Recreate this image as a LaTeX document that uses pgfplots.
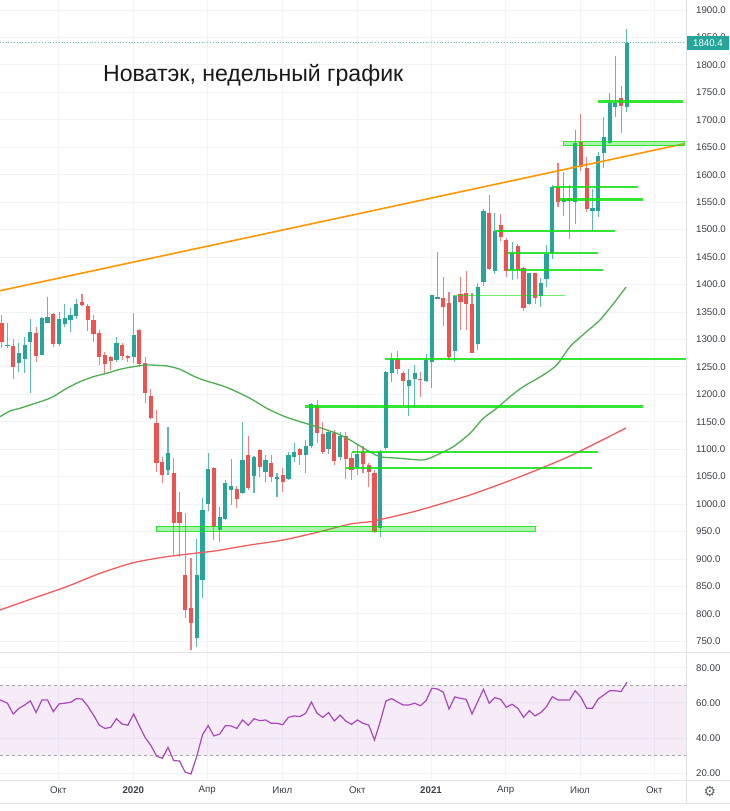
\documentclass[border=0pt]{standalone}
\usepackage{fontspec}
\setmainfont{Liberation Sans}
\newfontfamily\dejavu{DejaVu Sans}
\usepackage{pgfplots}
\usepackage{pgfplotstable}
\pgfplotsset{compat=1.18}
\definecolor{up}{HTML}{26A69A}
\definecolor{dn}{HTML}{EF5350}
\definecolor{gridc}{HTML}{F0F3FA}
\definecolor{sepc}{HTML}{E0E3EB}
\definecolor{lbl}{HTML}{3A3E48}
\definecolor{lvl}{HTML}{10E010}
\definecolor{orng}{HTML}{FF9800}
\definecolor{maone}{HTML}{4CAF50}
\definecolor{matwo}{HTML}{F25B5B}
\definecolor{rsic}{HTML}{AB47BC}
\definecolor{rsib}{HTML}{9C27B0}

\pgfplotstableread{
i o h l c
1 1329.3 1344.4 1283.7 1295.9
2 1288.6 1329.3 1283.7 1289.8
3 1288.0 1300.1 1227.2 1250.3
4 1257.6 1294.0 1241.2 1274.6
5 1263.7 1303.8 1238.2 1289.8
6 1295.9 1336.6 1201.8 1314.1
7 1312.3 1323.2 1259.4 1269.8
8 1271.6 1340.2 1271.6 1338.4
9 1330.5 1376.6 1330.5 1340.2
10 1346.3 1347.5 1286.8 1291.6
11 1291.6 1349.3 1288.0 1336.6
12 1327.4 1364.5 1323.2 1338.4
13 1335.3 1356.6 1314.1 1344.4
14 1342.6 1373.0 1336.6 1364.5
15 1368.7 1382.7 1360.8 1362.7
16 1360.8 1364.5 1315.9 1335.3
17 1335.3 1344.4 1295.9 1309.8
18 1311.0 1317.1 1253.4 1268.5
19 1271.6 1277.7 1237.0 1255.2
20 1268.5 1269.8 1244.3 1261.3
21 1262.5 1305.0 1259.4 1294.0
22 1289.8 1294.0 1262.5 1269.8
23 1269.8 1271.6 1259.4 1265.5
24 1268.5 1347.5 1256.4 1308.0
25 1317.1 1318.3 1249.1 1255.2
26 1256.4 1268.5 1184.8 1201.8
27 1196.9 1209.0 1154.4 1156.2
28 1147.1 1171.4 1059.1 1074.2
29 1077.3 1086.4 1039.0 1053.0
30 1062.1 1141.0 1053.0 1093.7
31 1057.2 1083.4 907.3 966.2
32 985.0 1022.6 904.2 966.2
33 870.8 983.2 791.9 807.1
34 810.1 901.2 735.0 782.8
35 755.5 936.0 740.0 870.8
36 861.3 1011.3 829.5 988.7
37 1000.1 1093.6 988.0 1063.3
38 1065.1 1066.9 934.5 958.8
39 952.8 995.3 931.5 975.8
40 972.2 1043.8 971.0 1037.8
41 1025.6 1081.5 998.3 1032.9
42 1026.8 1032.9 992.2 1008.6
43 1019.6 1148.9 1018.3 1080.3
44 1089.4 1124.0 1025.6 1028.7
45 1051.1 1087.6 1019.6 1086.3
46 1098.5 1099.7 1049.9 1068.1
47 1059.0 1089.4 1040.8 1080.3
48 1075.4 1089.4 1040.8 1049.9
49 1046.3 1056.0 1012.3 1049.9
50 1052.9 1065.1 1022.6 1040.8
51 1045.1 1095.5 1043.8 1089.4
52 1085.1 1111.8 1077.2 1095.5
53 1100.3 1101.5 1071.2 1089.4
54 1089.4 1116.7 1057.2 1105.8
55 1105.8 1184.7 1101.5 1182.3
56 1180.5 1189.6 1110.6 1128.8
57 1127.6 1150.1 1091.2 1095.5
58 1099.7 1134.9 1091.2 1131.9
59 1130.1 1134.9 1071.2 1079.1
60 1085.1 1131.9 1080.3 1124.0
61 1124.0 1131.9 1045.1 1081.5
62 1083.3 1092.4 1043.8 1062.1
63 1066.9 1107.6 1052.9 1091.2
64 1095.5 1105.8 1056.0 1073.0
65 1071.2 1075.4 1030.5 1059.0
66 1056.0 1062.1 947.9 949.7
67 955.8 1098.5 939.4 1095.5
68 1101.5 1243.0 1098.5 1241.2
69 1239.3 1275.8 1223.0 1263.6
70 1263.6 1279.4 1236.9 1245.4
71 1239.3 1243.0 1180.4 1224.8
72 1215.1 1245.4 1160.4 1226.0
73 1227.2 1253.3 1174.4 1238.1
74 1228.4 1241.2 1195.6 1226.0
75 1224.8 1273.3 1223.0 1262.4
76 1259.4 1381.5 1210.8 1380.8
77 1374.7 1459.7 1372.9 1376.6
78 1374.7 1413.0 1324.3 1359.6
79 1365.6 1386.9 1262.4 1268.5
80 1279.4 1380.8 1259.4 1379.0
81 1382.6 1414.2 1317.1 1368.7
82 1385.1 1425.1 1317.1 1364.4
83 1364.4 1385.1 1274.5 1275.8
84 1291.6 1402.1 1280.6 1396.0
85 1405.1 1536.9 1397.2 1533.8
86 1530.8 1563.0 1426.4 1427.6
87 1425.1 1529.6 1419.1 1498.0
88 1508.3 1528.4 1479.8 1485.9
89 1481.0 1484.0 1414.2 1425.1
90 1426.4 1477.9 1408.1 1456.7
91 1470.1 1473.7 1409.4 1426.4
92 1429.4 1432.4 1352.3 1356.5
93 1364.4 1421.5 1362.6 1420.3
94 1420.3 1421.5 1364.4 1374.7
95 1379.0 1411.2 1358.3 1403.3
96 1409.4 1471.9 1394.8 1455.5
97 1457.9 1581.2 1445.8 1576.9
98 1577.0 1621.9 1541.8 1550.9
99 1550.9 1605.5 1524.8 1555.1
100 1557.0 1581.2 1482.3 1552.7
101 1550.9 1681.4 1510.2 1658.3
102 1660.2 1710.6 1607.3 1613.4
103 1611.6 1632.8 1532.7 1536.9
104 1534.5 1573.3 1498.0 1538.7
105 1534.5 1642.0 1523.5 1634.1
106 1640.1 1705.7 1611.6 1668.1
107 1658.3 1749.4 1655.9 1730.0
108 1722.7 1816.2 1704.5 1731.2
109 1739.1 1761.6 1675.3 1725.1
110 1723.9 1864.8 1714.8 1840.4
}\candles

\pgfplotstableread{
i p
0.70 1159.2
2.45 1169.6
4.19 1174.5
5.93 1180.5
8.25 1188.3
9.97 1195.6
12.33 1210.9
14.65 1222.9
16.97 1232.0
19.31 1238.3
21.63 1245.5
23.95 1250.3
26.28 1253.4
29.77 1251.6
32.09 1245.5
34.41 1233.3
36.15 1226.0
40.23 1212.7
44.30 1192.7
47.21 1174.5
50.10 1160.5
53.01 1150.1
55.93 1141.0
59.41 1128.9
61.73 1116.8
64.65 1098.5
66.96 1086.3
70.45 1083.4
74.51 1080.3
76.85 1089.4
79.75 1104.6
82.66 1128.9
84.98 1156.3
87.31 1174.5
89.63 1195.6
91.95 1213.9
95.44 1235.2
97.78 1253.4
100.09 1286.7
102.71 1311.7
105.32 1335.3
107.76 1366.3
109.86 1395.4
}\maslow

\pgfplotstableread{
i p
0.70 807.1
6.51 828.4
12.33 849.6
18.14 873.9
23.95 893.3
29.77 904.2
35.58 911.5
38.49 915.1
44.30 925.5
50.10 934.6
55.93 948.3
61.73 963.7
65.22 967.9
70.45 980.1
73.94 989.3
82.66 1016.6
91.38 1049.9
100.09 1087.6
109.86 1138.6
}\malong

\pgfplotstableread{
i r
0.70 61.7
1 61.3
2 59.8
3 53.7
4 56.9
5 58.8
6 61.1
7 54.5
8 61.6
9 61.6
10 55.0
11 59.4
12 59.8
13 60.3
14 62.4
15 62.2
16 58.2
17 53.1
18 47.4
19 45.5
20 46.1
21 51.0
22 48.0
23 47.3
24 53.7
25 46.9
26 40.4
27 35.9
28 29.8
29 28.5
30 34.7
31 27.2
32 27.0
33 20.6
34 19.6
35 29.4
36 41.8
37 47.1
38 41.2
39 42.3
40 47.1
41 46.9
42 45.5
43 50.3
44 47.3
45 51.0
46 49.9
47 50.3
48 48.4
49 48.4
50 47.6
51 51.8
52 52.6
53 52.2
54 54.1
55 60.5
56 54.1
57 51.8
58 54.5
59 49.7
60 53.1
61 49.7
62 47.8
63 50.3
64 48.4
65 47.4
66 38.9
67 49.3
68 61.1
69 62.4
70 60.5
71 58.8
72 58.8
73 59.8
74 58.4
75 61.3
76 68.3
77 67.9
78 66.0
79 56.5
80 63.4
81 62.6
82 62.0
83 53.7
84 60.7
85 67.7
86 59.8
87 63.0
88 62.0
89 57.5
90 59.2
91 56.9
92 51.8
93 55.6
94 52.6
95 54.5
96 57.9
97 63.5
98 61.6
99 61.6
100 61.6
101 66.9
102 63.2
103 56.9
104 56.9
105 62.2
106 64.5
107 66.9
108 66.9
109 66.4
110 71.7
}\rsi

\pgfplotsset{
  lvlline/.style={lvl, opacity=0.85, line width=2.3pt, forget plot},
  tcklbl/.style={font=\fontsize{9.7}{11}\selectfont, text=lbl},
  candle/.style={draw=none, fill=none, mark=none, forget plot,
    /pgfplots/error bars/y dir=both, /pgfplots/error bars/y explicit,
    /pgfplots/error bars/error mark=none},
}

\begin{document}
\begin{tikzpicture}
\path[use as bounding box] (0pt,0pt) rectangle (730pt,811pt);

\begin{axis}[
  at={(0pt,159pt)}, anchor=south west,
  scale only axis, width=686pt, height=652pt,
  xmin=0.7036, xmax=120.32, ymin=730.6, ymax=1918.2,
  axis line style={draw=none},
  xtick={10.87,23.95,36.85,49.93,63.01,75.86,88.88,101.84,114.79},
  xticklabels={},
  ytick={750,800,...,1900},
  yticklabel pos=right,
  major tick length=0pt,
  grid=major, major grid style={gridc, line width=0.8pt},
  /pgf/number format/assume math mode=true,
  /pgf/number format/fixed, /pgf/number format/fixed zerofill,
  /pgf/number format/precision=1, /pgf/number format/1000 sep={},
  yticklabel style={tcklbl, anchor=west, inner sep=0pt, xshift=10pt},
]
% wicks
\addplot[candle, x filter/.expression={\thisrow{c}>=\thisrow{o} ? x : nan},
  /pgfplots/error bars/error bar style={draw=up!75, line width=1.1pt}]
  table[x=i, y expr={(\thisrow{h}+\thisrow{l})/2}, y error expr={(\thisrow{h}-\thisrow{l})/2}] {\candles};
\addplot[candle, x filter/.expression={\thisrow{c}<\thisrow{o} ? x : nan},
  /pgfplots/error bars/error bar style={draw=dn!75, line width=1.1pt}]
  table[x=i, y expr={(\thisrow{h}+\thisrow{l})/2}, y error expr={(\thisrow{h}-\thisrow{l})/2}] {\candles};
% bodies
\addplot[candle, x filter/.expression={\thisrow{c}>=\thisrow{o} ? x : nan},
  /pgfplots/error bars/error bar style={draw=up, line width=4.2pt}]
  table[x=i, y expr={(\thisrow{o}+\thisrow{c})/2}, y error expr={max(abs(\thisrow{c}-\thisrow{o})/2,0.9)}] {\candles};
\addplot[candle, x filter/.expression={\thisrow{c}<\thisrow{o} ? x : nan},
  /pgfplots/error bars/error bar style={draw=dn, line width=4.2pt}]
  table[x=i, y expr={(\thisrow{o}+\thisrow{c})/2}, y error expr={max(abs(\thisrow{c}-\thisrow{o})/2,0.9)}] {\candles};

% moving averages
\addplot[matwo, line width=1.3pt, smooth, tension=0.4, forget plot] table[x=i, y=p] {\malong};
\addplot[maone, line width=1.3pt, smooth, tension=0.4, forget plot] table[x=i, y=p] {\maslow};
% trend line
\addplot[orng, line width=1.6pt, forget plot] coordinates {(0.7036,1388.6) (119.97,1656.3)};

% levels
\addplot[draw=lvl, fill=lvl, fill opacity=0.35, draw opacity=0.8, line width=0.8pt, forget plot]
  coordinates {(27.90,950.5) (93.99,950.5) (93.99,959.6) (27.90,959.6)} -- cycle;
\addplot[draw=lvl, fill=lvl, fill opacity=0.35, draw opacity=0.8, line width=0.8pt, forget plot]
  coordinates {(98.87,1652.5) (119.97,1652.5) (119.97,1660.3) (98.87,1660.3)} -- cycle;
\addplot[lvlline] coordinates {(62.08,1094.3) (104.98,1094.3)};
\addplot[lvlline] coordinates {(61.04,1065.9) (103.93,1065.9)};
\addplot[lvlline] coordinates {(53.89,1178.0) (112.82,1178.0)};
\addplot[lvlline] coordinates {(67.84,1264.3) (120.32,1264.3)};
\addplot[lvl, opacity=0.6, line width=1.2pt, forget plot] coordinates {(79.69,1379.5) (99.22,1379.5)};
\addplot[lvlline] coordinates {(89.28,1426.8) (105.85,1426.8)};
\addplot[lvlline] coordinates {(89.28,1457.2) (104.98,1457.2)};
\addplot[lvlline] coordinates {(87.02,1497.8) (107.94,1497.8)};
\addplot[lvlline] coordinates {(98.35,1554.8) (112.82,1554.8)};
\addplot[lvlline] coordinates {(97.13,1577.8) (111.95,1577.8)};
\addplot[lvlline] coordinates {(104.98,1733.1) (119.80,1733.1)};
% last price
\addplot[up!70, dotted, line width=0.8pt, forget plot] coordinates {(0.7036,1840.4) (120.32,1840.4)};
\end{axis}

\begin{axis}[
  at={(0pt,31pt)}, anchor=south west,
  scale only axis, width=686pt, height=128pt,
  xmin=0.7036, xmax=120.32, ymin=16.2, ymax=88.9,
  axis line style={draw=none},
  xtick={10.87,23.95,36.85,49.93,63.01,75.86,88.88,101.84,114.79},
  xticklabels={Окт,\textbf{2020},Апр,Июл,Окт,\textbf{2021},Апр,Июл,Окт},
  ytick={20,40,60,80},
  yticklabel pos=right,
  major tick length=0pt,
  grid=major, major grid style={gridc, line width=0.8pt},
  /pgf/number format/assume math mode=true,
  /pgf/number format/fixed, /pgf/number format/fixed zerofill,
  /pgf/number format/precision=2,
  yticklabel style={tcklbl, anchor=west, inner sep=0pt, xshift=10pt},
  xticklabel style={tcklbl, anchor=center, inner sep=0pt, yshift=-10pt},
]
\addplot[draw=none, fill=rsib, fill opacity=0.09, forget plot]
  coordinates {(0.7036,30) (120.32,30) (120.32,70) (0.7036,70)} -- cycle;
\addplot[gray!70, dashed, line width=0.7pt, forget plot] coordinates {(0.7036,70) (120.32,70)};
\addplot[gray!70, dashed, line width=0.7pt, forget plot] coordinates {(0.7036,30) (120.32,30)};
\addplot[rsic, line width=1.2pt, forget plot] table[x=i, y=r] {\rsi};
\end{axis}

% frame lines
\draw[sepc, line width=0.8pt] (0pt,159pt) -- (730pt,159pt);
\draw[sepc, line width=0.8pt] (0pt,31pt) -- (730pt,31pt);
\draw[sepc, line width=0.8pt] (0pt,8pt) -- (730pt,8pt);
\draw[sepc, line width=0.8pt] (686.5pt,8pt) -- (686.5pt,811pt);

% title
\node[anchor=base west, inner sep=0pt, text=black!90] at (103pt,729.3pt)
  {\fontsize{23.1}{27}\selectfont Новатэк, недельный график};
% last price label
\node[fill=up, text=white, minimum width=42pt, minimum height=14pt, inner sep=0pt,
  font=\fontsize{9.7}{11}\selectfont] at (708pt,767.5pt) {1840.4};
% gear
\node[text=lbl!80, inner sep=0pt] at (710pt,19pt) {\dejavu\fontsize{14}{14}\selectfont ⚙};
\end{tikzpicture}
\end{document}
